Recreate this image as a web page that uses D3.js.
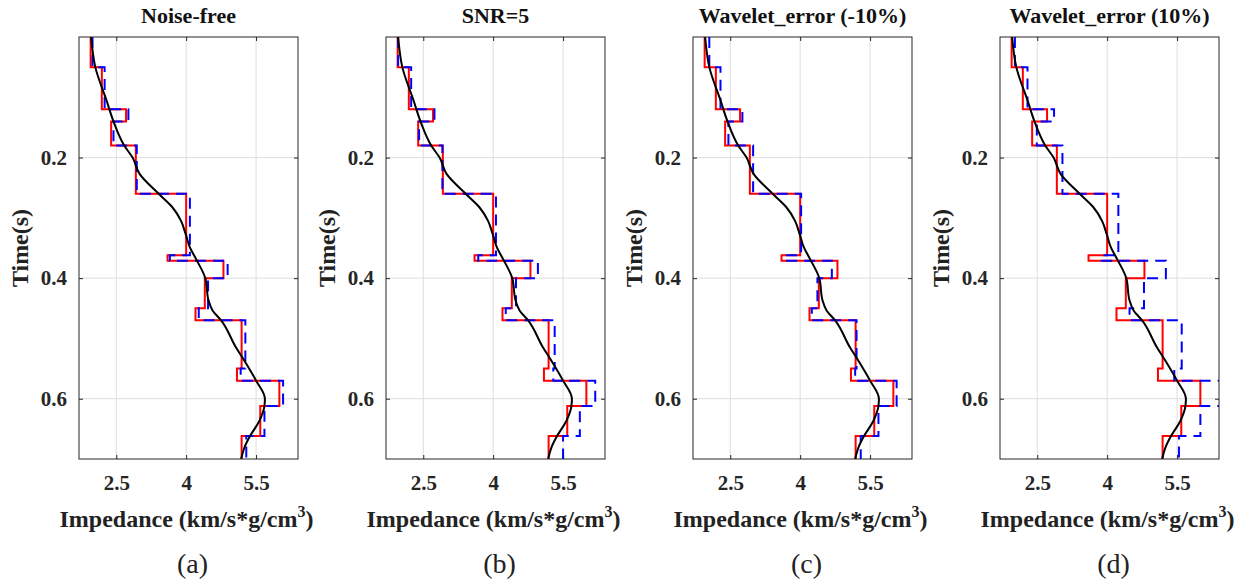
<!DOCTYPE html>
<html>
<head>
<meta charset="utf-8">
<script src="https://cdn.jsdelivr.net/npm/d3@7"></script>
<style>
  body { margin: 0; background: #fff; }
  svg { display: block; font-family: "Liberation Serif", "Times New Roman", serif; }
</style>
</head>
<body>
<svg id="chart" width="1257" height="584"></svg>
<script>
// layer boundaries in time (s), one more than the number of layers
let layerTimes = [0, 0.05, 0.12, 0.14, 0.18, 0.26, 0.362, 0.371, 0.40, 0.45, 0.47, 0.55, 0.57, 0.612, 0.662, 0.70];

// true model (red)
let trueImpedance = [1.95, 2.19, 2.71, 2.39, 2.92, 4.00, 3.60, 4.80, 4.40, 4.20, 5.19, 5.09, 6.00, 5.59, 5.19];

// inverted models (blue dashed), one per panel
let invNoiseFree = [1.99, 2.25, 2.76, 2.44, 2.94, 4.08, 3.65, 4.89, 4.47, 4.27, 5.27, 5.17, 6.08, 5.68, 5.29];
let invSnr5 = [1.96, 2.24, 2.74, 2.41, 2.91, 4.06, 3.68, 4.96, 4.49, 4.27, 5.32, 5.29, 6.19, 5.86, 5.50];
let invWaveletMinus = [2.05, 2.29, 2.76, 2.46, 2.99, 4.02, 3.68, 4.68, 4.37, 4.25, 5.21, 5.18, 6.07, 5.68, 5.30];
let invWaveletPlus = [2.02, 2.29, 2.86, 2.49, 3.04, 4.24, 3.88, 5.26, 4.79, 4.48, 5.60, 5.44, 6.60, 6.00, 5.54];

// initial (low frequency) model, black curve
let initialTime = [0, 0.05, 0.105, 0.14, 0.18, 0.2, 0.227, 0.26, 0.282, 0.305, 0.327, 0.349, 0.368, 0.40, 0.437, 0.454, 0.47, 0.515, 0.537, 0.57, 0.60, 0.612, 0.637, 0.662, 0.681, 0.70];
let initialImpedance = [1.96, 2.05, 2.29, 2.44, 2.67, 2.85, 3.00, 3.41, 3.70, 3.89, 3.99, 4.08, 4.21, 4.41, 4.48, 4.57, 4.75, 5.07, 5.25, 5.50, 5.69, 5.68, 5.57, 5.37, 5.25, 5.18];

let panelTitles = ["Noise-free", "SNR=5", "Wavelet_error (-10%)", "Wavelet_error (10%)"];
let panelLetters = ["(a)", "(b)", "(c)", "(d)"];
let panelInversions = [invNoiseFree, invSnr5, invWaveletMinus, invWaveletPlus];
let xTicks = [2.5, 4, 5.5];
let yTicks = [0.2, 0.4, 0.6];

let svg = d3.select("#chart");
let axisColor = "#262626";
let panelLeft = [79, 386, 693, 1000];
let panelWidth = 219;
let plotTop = 37, plotBottom = 459;

let y = d3.scaleLinear().domain([0, 0.7]).range([plotTop, plotBottom]);

// turn layer values into a vertical staircase
function stepPoints(values) {
    let pts = [];
    values.forEach((v, i) => {
        pts.push([v, layerTimes[i]]);
        pts.push([v, layerTimes[i + 1]]);
    });
    return pts;
}

panelTitles.forEach(function (title, p) {
    let x0 = panelLeft[p];
    let x = d3.scaleLinear().domain([1.7, 6.4]).range([x0, x0 + panelWidth]);
    let cx = x0 + panelWidth / 2;
    let g = svg.append("g");

    g.append("clipPath").attr("id", "clip" + p)
        .append("rect").attr("x", x0).attr("y", plotTop).attr("width", panelWidth).attr("height", plotBottom - plotTop);

    // grid
    g.append("g").selectAll("line").data(xTicks).join("line")
        .attr("x1", d => x(d)).attr("x2", d => x(d)).attr("y1", plotTop).attr("y2", plotBottom)
        .attr("stroke", "#dedede").attr("stroke-width", 1);
    g.append("g").selectAll("line").data(yTicks).join("line")
        .attr("x1", x0).attr("x2", x0 + panelWidth).attr("y1", d => y(d)).attr("y2", d => y(d))
        .attr("stroke", "#dedede").attr("stroke-width", 1);

    // axes, ticks pointing inward on all four sides
    let axL = g.append("g").attr("transform", `translate(${x0},0)`)
        .call(d3.axisLeft(y).tickValues(yTicks).tickSizeInner(-4).tickSizeOuter(0).tickPadding(12).tickFormat(d3.format(".1f")));
    let axR = g.append("g").attr("transform", `translate(${x0 + panelWidth},0)`)
        .call(d3.axisRight(y).tickValues(yTicks).tickSizeInner(-4).tickSizeOuter(0).tickFormat(""));
    let axB = g.append("g").attr("transform", `translate(0,${plotBottom})`)
        .call(d3.axisBottom(x).tickValues(xTicks).tickSizeInner(-4).tickSizeOuter(0).tickPadding(16).tickFormat(d => d));
    let axT = g.append("g").attr("transform", `translate(0,${plotTop})`)
        .call(d3.axisTop(x).tickValues(xTicks).tickSizeInner(-4).tickSizeOuter(0).tickFormat(""));
    [axL, axR, axB, axT].forEach(a => {
        a.select(".domain").remove();
        a.selectAll("line").attr("stroke", axisColor);
        a.selectAll("text").attr("fill", axisColor).style("font-size", "21px").style("font-weight", "bold")
            .style("font-family", "'Liberation Serif', serif");
    });

    let plot = g.append("g").attr("clip-path", `url(#clip${p})`);
    let stepLine = d3.line().x(d => x(d[0])).y(d => y(d[1]));

    plot.append("path")
        .attr("d", stepLine(stepPoints(trueImpedance)))
        .attr("fill", "none").attr("stroke", "#ff0000").attr("stroke-width", 2);

    plot.append("path")
        .attr("d", stepLine(stepPoints(panelInversions[p])))
        .attr("fill", "none").attr("stroke", "#0000ff").attr("stroke-width", 2)
        .attr("stroke-dasharray", "11,7");

    let smooth = d3.line().curve(d3.curveMonotoneY)
        .x((d, i) => x(initialImpedance[i])).y(d => y(d));
    plot.append("path")
        .attr("d", smooth(initialTime))
        .attr("fill", "none").attr("stroke", "#000").attr("stroke-width", 2);

    // box
    g.append("rect").attr("x", x0).attr("y", plotTop).attr("width", panelWidth).attr("height", plotBottom - plotTop)
        .attr("fill", "none").attr("stroke", axisColor).attr("stroke-width", 1);

    // title
    g.append("text").attr("x", cx).attr("y", 23).attr("text-anchor", "middle")
        .style("font-size", "22px").style("font-weight", "bold").attr("fill", "#111")
        .text(title);

    // y label
    g.append("text").attr("transform", `translate(${x0 - 51},${(plotTop + plotBottom) / 2}) rotate(-90)`)
        .attr("text-anchor", "middle").style("font-size", "24px").style("font-weight", "bold").attr("fill", "#222")
        .text("Time(s)");

    // x label with superscript
    let xl = g.append("text").attr("x", cx - 2).attr("y", 527).attr("text-anchor", "middle")
        .style("font-size", "24px").style("font-weight", "bold").attr("fill", "#222");
    xl.append("tspan").text("Impedance (km/s*g/cm");
    xl.append("tspan").attr("dy", -10).style("font-size", "16px").text("3");
    xl.append("tspan").attr("dy", 10).text(")");

    // panel letter
    g.append("text").attr("x", cx + 4).attr("y", 573).attr("text-anchor", "middle")
        .style("font-size", "28px").attr("fill", "#222")
        .text(panelLetters[p]);
});
</script>
</body>
</html>
